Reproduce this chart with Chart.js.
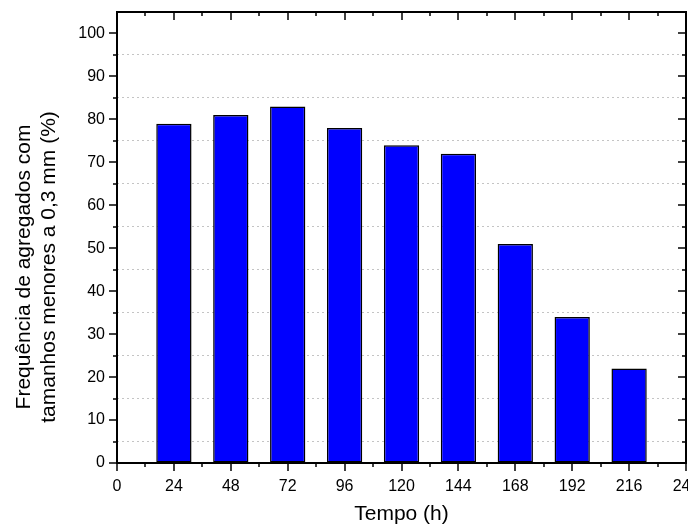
<!DOCTYPE html>
<html>
<head>
<meta charset="utf-8">
<script src="https://cdn.jsdelivr.net/npm/chart.js@4/dist/chart.umd.min.js"></script>
<style>
  html, body { margin: 0; padding: 0; background: #fff; }
  #wrap { width: 688px; height: 531px; }
</style>
</head>
<body>
<div id="wrap"><canvas id="c" width="688" height="531"></canvas></div>
<script>
// Aggregate frequency (< 0.3 mm) over time
const hours = [24, 48, 72, 96, 120, 144, 168, 192, 216];
const frequency = [79, 81, 83, 78, 74, 72, 51, 34, 22];

// Axis ticks
const xMajor = [0, 24, 48, 72, 96, 120, 144, 168, 192, 216, 240];
const xMinor = [12, 36, 60, 84, 108, 132, 156, 180, 204, 228];
const yMajor = [0, 10, 20, 30, 40, 50, 60, 70, 80, 90, 100];
const yMinor = [5, 15, 25, 35, 45, 55, 65, 75, 85, 95, 105];

const xTitle = 'Tempo (h)';
const yTitle = ['Frequência de agregados com', 'tamanhos menores a 0,3 mm (%)'];

const FONT = "'Liberation Sans', Arial, sans-serif";

// Frame, inward/outward tick marks and axis titles
const framePlugin = {
  id: 'frame',
  afterDraw(chart) {
    const { ctx, chartArea: { left, right, top, bottom }, scales: { x, y } } = chart;
    ctx.save();
    ctx.strokeStyle = '#000';
    ctx.lineWidth = 1.5;
    const tick = (x1, y1, x2, y2) => { ctx.beginPath(); ctx.moveTo(x1, y1); ctx.lineTo(x2, y2); ctx.stroke(); };
    const xt = (vals, len) => vals.forEach(v => {
      const px = Math.round(x.getPixelForValue(v));
      tick(px, bottom, px, bottom + len);   // outward at bottom
      tick(px, top, px, top + len);         // inward at top
    });
    const yt = (vals, len) => vals.forEach(v => {
      if (v >= 105) return;
      const py = Math.round(y.getPixelForValue(v));
      tick(left, py, left - len, py);       // outward at left
      tick(right, py, right - len, py);     // inward at right
    });
    xt(xMajor, 8); xt(xMinor, 4);
    yt(yMajor, 8); yt(yMinor, 4);

    ctx.lineWidth = 2;
    ctx.strokeRect(left, top, right - left, bottom - top);

    ctx.fillStyle = '#000';
    ctx.textAlign = 'center';
    ctx.textBaseline = 'middle';
    ctx.font = '21px ' + FONT;
    ctx.fillText(xTitle, (left + right) / 2, 514);

    ctx.translate(0, 267);
    ctx.rotate(-Math.PI / 2);
    ctx.fillText(yTitle[0], 0, 24);
    ctx.fillText(yTitle[1], 0, 49);
    ctx.restore();
  }
};

new Chart(document.getElementById('c'), {
  type: 'bar',
  data: {
    datasets: [{
      data: hours.map((h, i) => ({ x: h, y: frequency[i] })),
      backgroundColor: '#0000ff',
      borderColor: '#000',
      borderWidth: 1.5,
      borderSkipped: false,
      barPercentage: 0.62,
      categoryPercentage: 1
    }]
  },
  options: {
    responsive: false,
    animation: false,
    devicePixelRatio: 1,
    layout: { padding: { left: 0, top: 12, right: 2, bottom: 0 }, autoPadding: false },
    plugins: { legend: { display: false }, tooltip: { enabled: false } },
    scales: {
      x: {
        type: 'linear',
        offset: false,
        min: 0,
        max: 240,
        afterBuildTicks: s => { s.ticks = xMajor.map(v => ({ value: v })); },
        afterFit: s => { s.height = 68; s.paddingLeft = 0; s.paddingRight = 0; },
        grid: { display: false, drawTicks: false, offset: false },
        border: { display: false },
        ticks: { color: '#000', font: { family: FONT, size: 16 }, padding: 14, maxRotation: 0, autoSkip: false }
      },
      y: {
        min: 0,
        max: 105,
        afterBuildTicks: s => {
          s.ticks = [...yMajor, ...yMinor].sort((a, b) => a - b).map(v => ({ value: v }));
        },
        afterFit: s => { s.width = 117; s.paddingTop = 0; s.paddingBottom = 0; },
        grid: {
          drawTicks: false,
          lineWidth: 1,
          color: c => (yMinor.includes(c.tick.value) && c.tick.value < 105) ? '#c4c4c4' : 'rgba(0,0,0,0)',
          borderDash: [2, 3]
        },
        border: { display: false, dash: [2, 3] },
        ticks: {
          color: '#000',
          font: { family: FONT, size: 16 },
          padding: 12,
          autoSkip: false,
          callback: v => yMajor.includes(v) ? String(v) : ''
        }
      }
    }
  },
  plugins: [framePlugin]
});
</script>
</body>
</html>
